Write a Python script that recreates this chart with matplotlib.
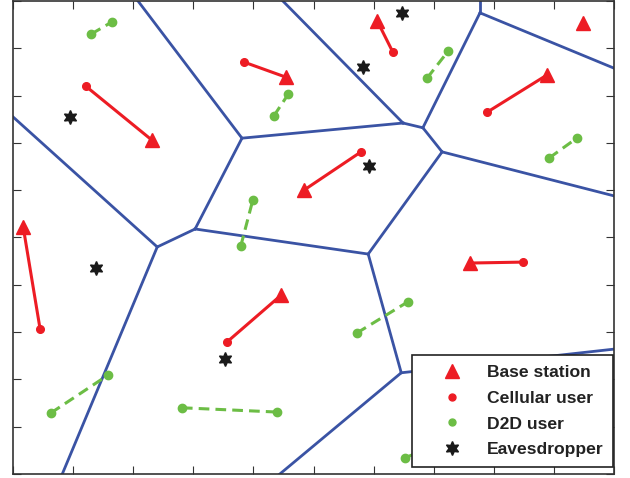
import matplotlib
matplotlib.use("Agg")
import matplotlib.pyplot as plt
from matplotlib.lines import Line2D

RED = "#ed1c24"
GREEN = "#6cbd45"
BLUE = "#3a53a4"

# Voronoi vertices (inner) and where edges meet the border
VERTICES = {
    "V1": (381, 710), "V2": (649, 742), "V3": (682, 732), "V4": (714, 681),
    "V5": (591, 465), "V6": (303, 518), "V7": (240, 480), "V8": (646, 214),
    "V9": (777, 975),
    "T1": (208, 1000), "T2": (449, 1000), "T3": (777, 1000),
    "R1": (1000, 858), "R2": (1000, 588), "R3": (1000, 264),
    "B1": (444, 0), "B2": (82, 0), "L1": (0, 755),
}
EDGES = [
    ("T1", "V1"), ("V1", "V2"), ("V1", "V6"), ("V6", "V7"), ("V6", "V5"),
    ("L1", "V7"), ("V7", "B2"), ("V5", "V4"), ("V5", "V8"), ("V8", "B1"),
    ("V8", "R3"), ("V4", "V3"), ("V3", "V2"), ("V4", "R2"), ("V3", "V9"),
    ("V9", "T3"), ("V9", "R1"), ("V2", "T2"),
]

bs_x = [231, 454, 606, 948, 889, 484, 17, 760, 446]
bs_y = [706, 839, 958, 954, 844, 600, 522, 446, 378]

# cellular users and the base station each one is linked to
cu_x = [121, 384, 632, 789, 579, 45, 849, 356]
cu_y = [820, 871, 892, 765, 681, 307, 448, 279]
cu_bs = [0, 1, 2, 4, 5, 6, 7, 8]

# D2D pairs: transmitter / receiver
d2d_x1 = [130, 434, 689, 892, 379, 572, 63, 281, 652]
d2d_y1 = [930, 757, 837, 668, 482, 298, 129, 140, 34]
d2d_x2 = [165, 458, 724, 938, 399, 657, 158, 439, 740]
d2d_y2 = [956, 803, 894, 710, 579, 364, 209, 131, 80]

eve_x = [95, 647, 582, 592, 138, 353]
eve_y = [755, 975, 860, 651, 436, 243]


def main() -> None:
    fig = plt.figure(figsize=(6.3, 4.78), dpi=100)
    ax = fig.add_axes([13 / 630, 4 / 478, 601 / 630, 473 / 478])

    for a, b in EDGES:
        (xa, ya), (xb, yb) = VERTICES[a], VERTICES[b]
        ax.plot([xa, xb], [ya, yb], color=BLUE, lw=2.0, zorder=1)

    for i, j in enumerate(cu_bs):
        ax.plot([cu_x[i], bs_x[j]], [cu_y[i], bs_y[j]], color=RED, lw=2.2, zorder=2)
    ax.plot(cu_x, cu_y, "o", color=RED, ms=5.5, zorder=3)
    ax.plot(bs_x, bs_y, "^", color=RED, ms=10, zorder=3)

    for i in range(len(d2d_x1)):
        ax.plot([d2d_x1[i], d2d_x2[i]], [d2d_y1[i], d2d_y2[i]], color=GREEN,
                lw=2.2, ls=(0, (3.5, 2)), zorder=2)
    ax.plot(d2d_x1 + d2d_x2, d2d_y1 + d2d_y2, "o", color=GREEN, ms=6,
            ls="none", zorder=3)

    ax.plot(eve_x, eve_y, ls="none", marker=(6, 1, 0), color="#1a1a1a",
            ms=10, zorder=3)

    ax.set_xlim(0, 1000)
    ax.set_ylim(0, 1000)
    ax.set_xticks(range(0, 1001, 100))
    ax.set_yticks(range(0, 1001, 100))
    ax.set_xticklabels([])
    ax.set_yticklabels([])
    ax.tick_params(direction="in", length=6, width=0.8, top=True, right=True,
                   color="#333333")
    for s in ax.spines.values():
        s.set_linewidth(1.2)
        s.set_color("#333333")

    handles = [
        Line2D([], [], ls="none", marker="^", color=RED, ms=10),
        Line2D([], [], ls="none", marker="o", color=RED, ms=5),
        Line2D([], [], ls="none", marker="o", color=GREEN, ms=5),
        Line2D([], [], ls="none", marker=(6, 1, 0), color="#1a1a1a", ms=10),
    ]
    labels = ["Base station", "Cellular user", "D2D user", "Eavesdropper"]
    leg = ax.legend(handles, labels, loc="lower right",
                    bbox_to_anchor=(0.998, 0.015), borderaxespad=0,
                    fancybox=False, framealpha=1, edgecolor="#222222",
                    prop={"family": "Liberation Sans", "weight": "bold", "size": 12.6},
                    handlelength=3.4, handletextpad=0.3, labelspacing=0.6,
                    borderpad=0.55)
    leg.get_frame().set_linewidth(1.2)
    leg.set_zorder(5)
    for t in leg.get_texts():
        t.set_color("#222222")

    fig.savefig("out.png", dpi=100)
    plt.close(fig)


if __name__ == "__main__":
    main()
